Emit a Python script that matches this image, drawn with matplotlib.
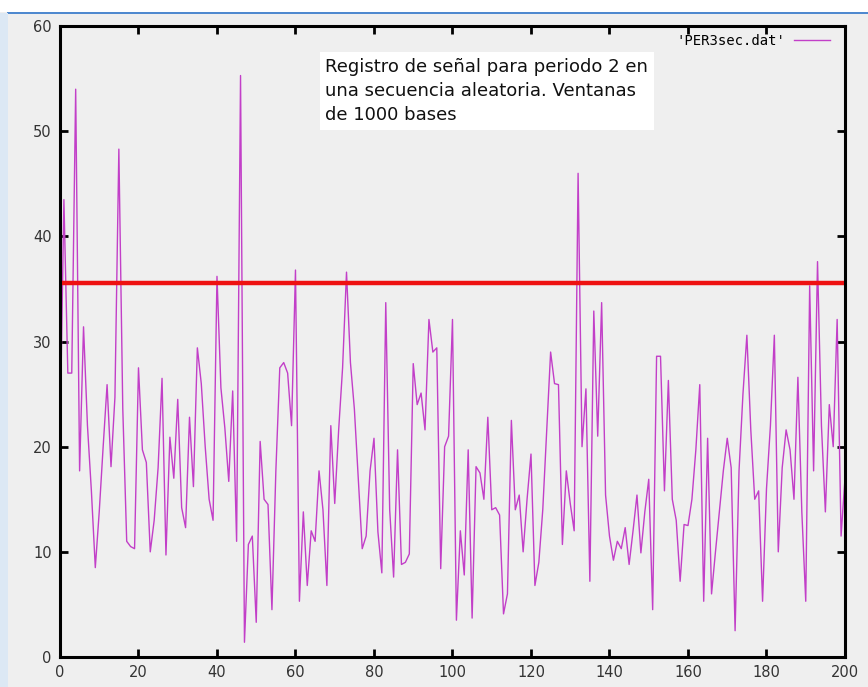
import numpy as np
import matplotlib
matplotlib.use("Agg")
import matplotlib.pyplot as plt
from matplotlib.patches import Rectangle

# === Data (one value per window) ===
ventana = np.arange(0, 201)
senal = [
    20.5, 43.5, 27.0, 27.0, 54.0, 17.7, 31.4, 22.0, 15.8, 8.5,
    13.8, 20.0, 25.9, 18.1, 24.7, 48.3, 23.6, 11.0, 10.5, 10.3,
    27.5, 19.7, 18.5, 10.0, 13.0, 18.0, 26.5, 9.7, 20.9, 17.0,
    24.5, 14.2, 12.3, 22.8, 16.2, 29.4, 26.0, 20.0, 15.0, 13.0,
    36.2, 25.6, 21.8, 16.7, 25.3, 11.0, 55.3, 1.4, 10.7, 11.5,
    3.3, 20.5, 15.0, 14.5, 4.5, 17.7, 27.5, 28.0, 27.0, 22.0,
    36.8, 5.3, 13.8, 6.8, 12.0, 11.0, 17.7, 14.0, 6.8, 22.0,
    14.6, 21.6, 27.5, 36.6, 28.0, 23.6, 17.0, 10.3, 11.5, 17.7,
    20.8, 11.9, 8.0, 33.7, 14.0, 7.6, 19.7, 8.8, 9.0, 9.8,
    27.9, 24.0, 25.1, 21.6, 32.1, 29.0, 29.4, 8.4, 20.0, 21.0,
    32.1, 3.5, 12.0, 7.8, 19.7, 3.7, 18.1, 17.5, 15.0, 22.8,
    14.0, 14.2, 13.5, 4.1, 6.0, 22.5, 14.0, 15.4, 10.0, 15.0,
    19.3, 6.8, 9.0, 14.0, 21.6, 29.0, 26.0, 25.9, 10.7, 17.7,
    14.6, 12.0, 46.0, 20.0, 25.5, 7.2, 32.9, 21.0, 33.7, 15.4,
    11.5, 9.2, 11.0, 10.3, 12.3, 8.8, 12.0, 15.4, 9.9, 13.8,
    16.9, 4.5, 28.6, 28.6, 15.8, 26.3, 15.0, 13.0, 7.2, 12.6,
    12.5, 15.0, 19.7, 25.9, 5.3, 20.8, 6.0, 10.0, 13.8, 17.7,
    20.8, 18.0, 2.5, 17.7, 25.0, 30.6, 21.6, 15.0, 15.8, 5.3,
    16.0, 22.0, 30.6, 10.0, 18.0, 21.6, 19.7, 15.0, 26.6, 13.8,
    5.3, 35.3, 17.7, 37.6, 22.0, 13.8, 24.0, 20.0, 32.1, 11.5,
    17.0,
]
umbral = 35.6

x_ticks = [0, 20, 40, 60, 80, 100, 120, 140, 160, 180, 200]
y_ticks = [0, 10, 20, 30, 40, 50, 60]
nota = ("Registro de señal para periodo 2 en\n"
        "una secuencia aleatoria. Ventanas\n"
        "de 1000 bases")

# === Figure ===
fig = plt.figure(figsize=(8.68, 6.87), dpi=100)
fig.patch.set_facecolor("#efefef")

# screenshot frame: white strip + blue line at top, pale blue strip left
fig.patches.append(Rectangle((0, 0.982), 1, 0.018, transform=fig.transFigure,
                             facecolor="white", edgecolor="none", zorder=0))
fig.patches.append(Rectangle((0.008, 0.979), 0.992, 0.004, transform=fig.transFigure,
                             facecolor="#4f89cf", edgecolor="none", zorder=0))
fig.patches.append(Rectangle((0, 0), 0.009, 0.981, transform=fig.transFigure,
                             facecolor="#dce8f4", edgecolor="none", zorder=0))

ax = fig.add_axes([0.0691, 0.0437, 0.9044, 0.9183])
ax.set_facecolor("#efefef")

ax.plot(ventana, senal, color="#c23fc8", linewidth=1.0, label="'PER3sec.dat'")
ax.axhline(umbral, color="#ee1111", linewidth=3.2)

ax.set_xlim(0, 200)
ax.set_ylim(0, 60)
ax.set_xticks(x_ticks)
ax.set_yticks(y_ticks)
ax.tick_params(direction="in", length=6, width=2, top=True, right=True,
               labelsize=10.5, labelcolor="#333333", pad=6)
for s in ax.spines.values():
    s.set_linewidth(2.2)

ax.text(0.338, 0.950, nota, transform=ax.transAxes, fontsize=13,
        va="top", ha="left", linespacing=1.45, color="#111111",
        bbox=dict(facecolor="white", edgecolor="none", pad=4))

leg = ax.legend(loc="upper right", bbox_to_anchor=(0.988, 0.996), frameon=False,
                handlelength=2.6, markerfirst=False, handletextpad=0.6,
                borderaxespad=0, prop={"family": "DejaVu Sans Mono", "size": 10})

fig.savefig("out.png", dpi=100, facecolor=fig.get_facecolor())
